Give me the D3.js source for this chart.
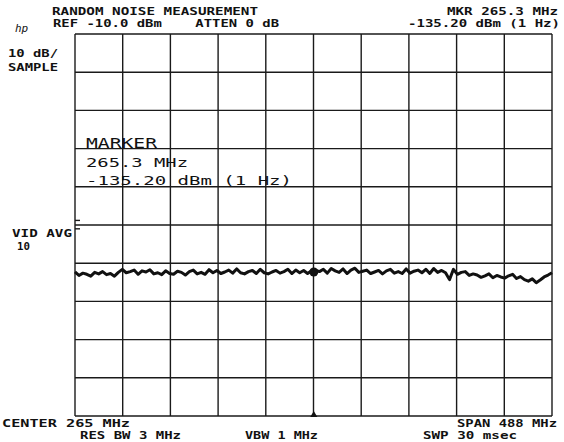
<!DOCTYPE html>
<html>
<head>
<meta charset="utf-8">
<script src="https://cdn.jsdelivr.net/npm/d3@7"></script>
<style>
  body { margin: 0; background: #fff; }
  svg { display: block; }
  text { font-family: "DejaVu Sans Mono", monospace; fill: #111; white-space: pre; }
</style>
</head>
<body>
<svg id="chart"></svg>
<script>
// Spectrum analyser settings (from the screen annotations)
const centerMHz = 265;
const spanMHz = 488;
const refLevel = -10;      // dBm, top graticule line
const dbPerDiv = 10;
const divisions = 10;

const markerFreq = 265.3;
const markerLevel = -72.3; // displayed level at the marker (dBm, 3 MHz RBW)

// Displayed noise trace, dBm, evenly spaced across the span
const traceLevels = [
  -72.3, -73.2, -72.6, -72.9, -73.4, -72.4, -72.8, -72.2, -73.0, -72.7, -73.4, -72.4, -71.6,
  -72.5, -72.2, -71.8, -72.9, -72.0, -72.3, -71.7, -72.8, -72.5, -73.0, -72.0, -72.7,
  -72.9, -72.1, -72.4, -73.1, -72.2, -71.8, -72.8, -72.4, -72.9, -71.7, -72.5, -71.9,
  -72.7, -72.3, -71.8, -72.6, -71.5, -72.5, -72.8, -72.2, -71.9, -72.7, -71.6, -72.5,
  -72.8, -72.3, -71.9, -72.6, -72.2, -71.6, -72.7, -71.8, -72.5, -71.9, -72.7, -72.0,
  -71.8, -72.2, -71.6, -72.6, -71.4, -72.0, -72.4, -71.5, -72.7, -71.8, -71.3, -72.4,
  -72.1, -71.8, -72.7, -72.3, -71.9, -72.8, -72.0, -71.6, -72.6, -72.2, -72.7, -71.5,
  -72.6, -72.1, -71.8, -72.5, -71.6, -72.7, -71.4, -72.4, -71.9, -72.5, -74.3, -71.6,
  -72.9, -72.4, -72.2, -73.2, -72.8, -73.1, -73.7, -73.3, -72.8, -73.8, -73.2, -73.6,
  -73.9, -73.3, -72.9, -74.0, -73.5, -74.3, -74.7, -74.1, -75.1, -74.4, -73.6, -73.1, -72.5
];

// Screen annotations
const headerTop = ['RANDOM NOISE MEASUREMENT', 'REF -10.0 dBm    ATTEN 0 dB'];
const markerReadout = ['MKR 265.3 MHz', '-135.20 dBm (1 Hz)'];
const markerBox = ['MARKER', '265.3 MHz', '-135.20 dBm (1 Hz)'];
const scaleLabel = ['10 dB/', 'SAMPLE'];
const avgLabel = ['VID AVG', '10'];
const footer = ['CENTER 265 MHz', 'SPAN 488 MHz', 'RES BW 3 MHz', 'VBW 1 MHz', 'SWP 30 msec'];

const width = 564, height = 442;
const svg = d3.select('#chart').attr('width', width).attr('height', height);

const plot = { left: 75, right: 552, top: 34, bottom: 416 };
const fStart = centerMHz - spanMHz / 2, fStop = centerMHz + spanMHz / 2;

const x = d3.scaleLinear().domain([fStart, fStop]).range([plot.left, plot.right]);
const y = d3.scaleLinear()
  .domain([refLevel - dbPerDiv * divisions, refLevel])
  .range([plot.bottom, plot.top]);

const xGrid = d3.range(divisions + 1).map(i => fStart + i * spanMHz / divisions);
const yGrid = d3.range(divisions + 1).map(i => refLevel - i * dbPerDiv);

// Graticule
const grid = svg.append('g').attr('stroke', '#1a1a1a').attr('stroke-width', 1.4);
grid.selectAll('line.v').data(xGrid).join('line')
  .attr('class', 'v')
  .attr('x1', d => x(d)).attr('x2', d => x(d))
  .attr('y1', plot.top).attr('y2', plot.bottom);
grid.selectAll('line.h').data(yGrid).join('line')
  .attr('class', 'h')
  .attr('x1', plot.left).attr('x2', plot.right)
  .attr('y1', d => y(d)).attr('y2', d => y(d));

// small display-line ticks at the left edge
grid.selectAll('line.t').data([-58.8, -61.0]).join('line')
  .attr('class', 't')
  .attr('x1', plot.left).attr('x2', plot.left + 5)
  .attr('y1', d => y(d)).attr('y2', d => y(d));

// Trace
const step = spanMHz / (traceLevels.length - 1);
const line = d3.line()
  .x((d, i) => x(fStart + i * step))
  .y(d => y(d));
svg.append('path')
  .datum(traceLevels)
  .attr('fill', 'none')
  .attr('stroke', '#111')
  .attr('stroke-width', 3)
  .attr('stroke-linejoin', 'round')
  .attr('d', line);

// Marker
svg.append('circle')
  .attr('cx', x(markerFreq)).attr('cy', y(markerLevel))
  .attr('r', 4.5).attr('fill', '#111');
svg.append('path')
  .attr('transform', `translate(${x(markerFreq)},${plot.bottom - 1})`)
  .attr('d', d3.symbol(d3.symbolTriangle, 22)())
  .attr('fill', '#111');

// Text helper: fits each label to the width it takes on the screen
function label(str, x0, yb, len, opts = {}) {
  const t = svg.append('text')
    .attr('x', x0).attr('y', yb)
    .attr('font-size', opts.size || 11)
    .attr('font-weight', opts.weight || 'bold')
    .text(str);
  if (len) t.attr('textLength', len).attr('lengthAdjust', 'spacingAndGlyphs');
  return t;
}

label(headerTop[0], 52, 15, 206);
label(headerTop[1], 53, 27, 226);
label(markerReadout[0], 447, 15, 111);
label(markerReadout[1], 408, 27, 152);

svg.append('text')
  .attr('x', 15).attr('y', 32)
  .attr('font-family', 'DejaVu Serif, serif')
  .attr('font-style', 'italic')
  .attr('font-size', 11)
  .text('hp');

label(scaleLabel[0], 8, 57, 50);
label(scaleLabel[1], 8, 71, 50);

label(avgLabel[0], 12, 237, 60);
label(avgLabel[1], 17, 250, 13);

label(markerBox[0], 86, 148, 71, { size: 14, weight: 'normal' });
label(markerBox[1], 86, 167, 102, { size: 13, weight: 'normal' });
label(markerBox[2], 86, 185, 206, { size: 13, weight: 'normal' });

label(footer[0], 2, 427, 128);
label(footer[1], 457, 427, 100);
label(footer[2], 80, 439, 101, { size: 10.5 });
label(footer[3], 245, 439, 73, { size: 10.5 });
label(footer[4], 423, 439, 94, { size: 10.5 });
</script>
</body>
</html>
